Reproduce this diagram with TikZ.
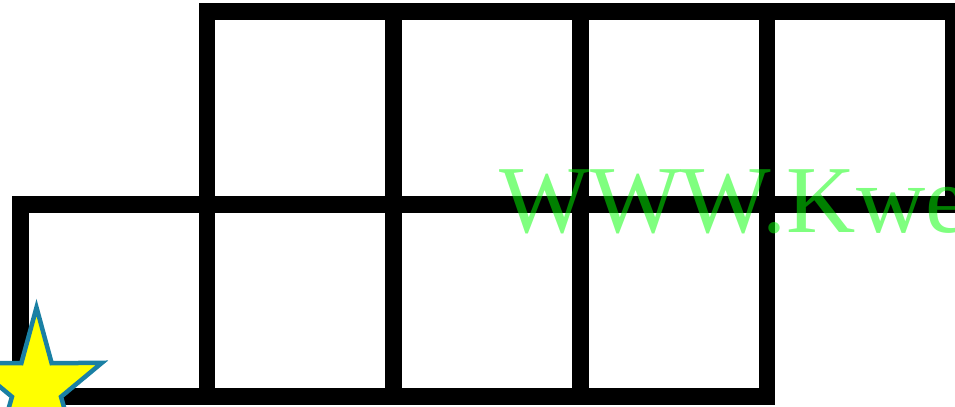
\documentclass[tikz,border=0pt]{standalone}
\usepackage{fontspec}
\usepackage{tikz}
\usetikzlibrary{positioning}
\usepackage{xcolor}
\newfontfamily\wmfont{Liberation Serif}
\definecolor{starblue}{HTML}{1A80A4}
\definecolor{starfill}{HTML}{FFFF00}
\definecolor{wmgreen}{HTML}{00FF00}
\tikzset{
  cell/.style     = {draw=black, line width=0.334cm, line join=miter},
  starmark/.style = {draw=starblue, fill=starfill, line width=0.09cm,
                     line join=miter},
  watermark/.style= {font=\wmfont\fontsize{54.6pt}{60pt}\selectfont,
                     text=wmgreen, text opacity=0.5, inner sep=0pt,
                     anchor=base west},
}

\begin{document}
\begin{tikzpicture}[x=0.02cm, y=-0.02cm]
\clip (0,0) rectangle (955,406);
% ---- top row ----
\foreach \c in {1,...,4}
  \draw[cell] ({20.5+186.6*\c},11.7) rectangle ({20.5+186.6*(\c+1)},204.4);
% ---- bottom row ----
\foreach \c in {0,...,3}
  \draw[cell] ({20.5+186.6*\c},204.4) rectangle ({20.5+186.6*(\c+1)},396.5);
% ---- watermark ----
\node[watermark] (wm) at (499.5,232) {WWW.Kwe};
% ---- star ----
\draw[starmark] plot[samples at={0,...,9}]
     ({36.5+0.86*(55+25*cos(180*\x))*cos(90+36*\x)},
      {387.5-(55+25*cos(180*\x))*sin(90+36*\x)}) -- cycle;
\end{tikzpicture}
\end{document}
